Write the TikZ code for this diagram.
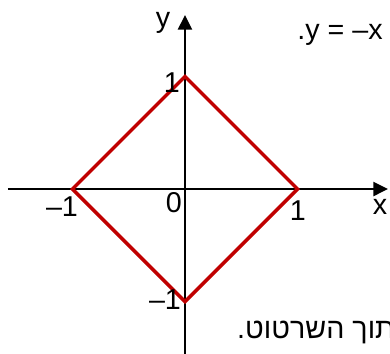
\documentclass[tikz,border=0pt]{standalone}
\usepackage{fontspec}
\setmainfont{Liberation Sans}
\newfontfamily\hebfont[Script=Hebrew]{Liberation Sans}
\TeXXeTstate=1
\usetikzlibrary{arrows.meta}
\definecolor{diamondred}{RGB}{192,0,0}

\begin{document}
\begin{tikzpicture}[x=84.375pt, y=84.375pt, every node/.style={font=\fontsize{21.5}{26}\selectfont, inner sep=0pt},
    axis/.style={line width=1.7pt, -{Triangle[length=11pt, width=10.5pt]}},
    edge/.style={line width=2.6pt, diamondred, line join=miter}]
    \useasboundingbox (-1.644,-1.458) rectangle (1.822,1.68);

    % axes
    \coordinate (xstart) at (-1.573,0);
    \coordinate (xend) at (1.804,0);
    \coordinate (ystart) at (0,-1.47);
    \coordinate (yend) at (0,1.547);
    \draw[axis] (xstart) -- (xend);
    \draw[axis] (ystart) -- (yend);

    % vertices
    \coordinate (t) at (0,1);
    \coordinate (r) at (1,0);
    \coordinate (b) at (0,-1);
    \coordinate (l) at (-1,0);

    % edges
    \draw[edge] (t) -- (r) -- (b) -- (l) -- cycle;

    % labels
    \node (ylab) at (-0.196,1.476) {y};
    \node (xlab) at (1.733,-0.16) {x};
    \node (zero) at (-0.098,-0.124) {0};
    \node (one1) at (-0.116,0.942) {1};
    \node (one2) at (1.004,-0.196) {1};
    \node (mone1) at (-1.093,-0.16) {\textendash1};
    \node (mone2) at (-0.178,-0.987) {\textendash1};

    % text
    \node (eq) at (1.378,1.369) {.y = \textendash x};
    \begin{scope}
        \clip (-1.644,-1.458) rectangle (1.822,1.68);
        \node[anchor=west] (note) at (0.462,-1.271) {\hebfont\beginR בתוך השרטוט.\endR};
    \end{scope}
\end{tikzpicture}
\end{document}
